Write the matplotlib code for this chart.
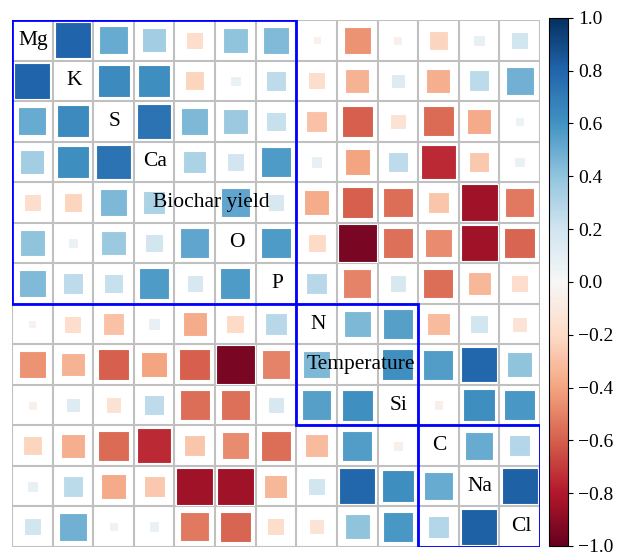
import numpy as np
import matplotlib
matplotlib.use("Agg")
import matplotlib.pyplot as plt
from matplotlib.patches import Rectangle

plt.rcParams['font.family'] = ['Liberation Serif', 'DejaVu Serif']

labels = ['Mg', 'K', 'S', 'Ca', 'Biochar yield', 'O', 'P',
          'N', 'Temperature', 'Si', 'C', 'Na', 'Cl']

# upper triangle of the correlation matrix, row by row (right of the diagonal)
upper = [
    [0.80, 0.50, 0.35, -0.18, 0.40, 0.44, -0.04, -0.45, -0.05, -0.22, 0.08, 0.19],
    [0.64, 0.62, -0.22, 0.07, 0.26, -0.18, -0.35, 0.13, -0.36, 0.27, 0.48],
    [0.74, 0.45, 0.37, 0.23, -0.29, -0.60, -0.15, -0.57, -0.38, 0.05],
    [0.32, 0.19, 0.57, 0.08, -0.40, 0.26, -0.75, -0.27, 0.07],
    [0.53, 0.17, -0.37, -0.60, -0.56, -0.28, -0.85, -0.53],
    [0.57, -0.20, -0.95, -0.55, -0.47, -0.85, -0.58],
    [0.28, -0.50, 0.17, -0.56, -0.33, -0.18],
    [0.45, 0.55, -0.32, 0.19, -0.14],
    [0.61, 0.56, 0.79, 0.40],
    [-0.06, 0.62, 0.58],
    [0.50, 0.29],
    [0.82],
]

# cluster blocks (first index, last index)
clusters = [(0, 6), (7, 9), (10, 12)]

n = len(labels)
corr = np.zeros((n, n))
for i, row in enumerate(upper):
    for k, v in enumerate(row):
        j = i + 1 + k
        corr[i, j] = v
        corr[j, i] = v

cmap = plt.get_cmap('RdBu')
norm = matplotlib.colors.Normalize(vmin=-1, vmax=1)

fig = plt.figure(figsize=(6.17, 5.53), dpi=100)
ax = fig.add_axes([0.0194, 0.0108, 0.8558, 0.953])
cax = fig.add_axes([0.890, 0.0127, 0.0310, 0.955])

rmax = np.abs(corr).max()
for i in range(n):
    for j in range(n):
        if i == j:
            continue
        v = corr[i, j]
        side = 0.96 * np.sqrt(abs(v) / rmax)
        ax.add_patch(Rectangle((j - side / 2, i - side / 2), side, side,
                               facecolor=cmap(norm(v)), edgecolor='white',
                               linewidth=0.8, zorder=2))

# long names sit a little right of the cell centre
shift = {'Biochar yield': 0.42, 'Temperature': 0.08}
for i, name in enumerate(labels):
    ax.text(i + shift.get(name, 0.03), i, name, ha='center', va='center',
            fontsize=15.5, zorder=5)

# grid between cells
for k in range(n + 1):
    ax.axhline(k - 0.5, color='#c0c0c0', linewidth=1.5, zorder=1)
    ax.axvline(k - 0.5, color='#c0c0c0', linewidth=1.5, zorder=1)

for a, b in clusters:
    ax.add_patch(Rectangle((a - 0.5, a - 0.5), b - a + 1, b - a + 1,
                           fill=False, edgecolor='blue', linewidth=2, zorder=6))

ax.set_xlim(-0.5, n - 0.5)
ax.set_ylim(n - 0.5, -0.5)
ax.set_xticks([])
ax.set_yticks([])
for s in ax.spines.values():
    s.set_visible(False)

cb = matplotlib.colorbar.ColorbarBase(cax, cmap=cmap, norm=norm)
cb.set_ticks(np.arange(-1.0, 1.01, 0.2))
cb.ax.tick_params(labelsize=14)

fig.savefig('out.png', dpi=100)
